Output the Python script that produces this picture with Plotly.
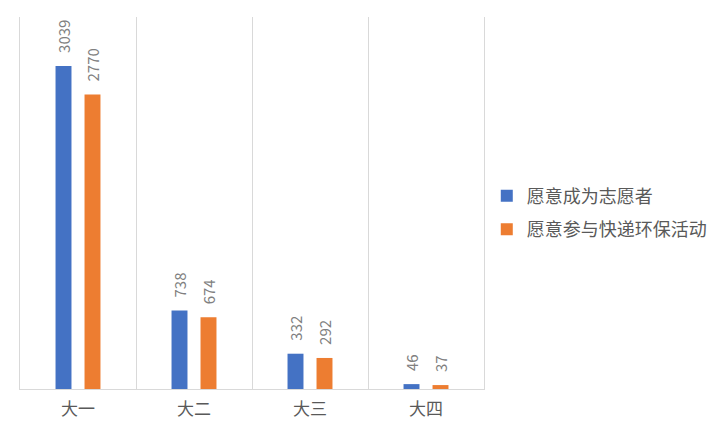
import plotly.graph_objects as go

categories = ["大一", "大二", "大三", "大四"]
volunteer = [3039, 738, 332, 46]
express_eco = [2770, 674, 292, 37]

FONT = "Noto Sans CJK SC"
LABEL_PAD = "\u00a0\u00a0\u00a0"

fig = go.Figure()
fig.add_trace(
    go.Bar(
        x=categories,
        y=volunteer,
        name="愿意成为志愿者",
        legendgroup="a",
        marker=dict(color="#4472C4"),
        text=[LABEL_PAD + str(v) for v in volunteer],
        textposition="outside",
        textangle=-90,
        constraintext="none",
        textfont=dict(color="#808080", size=15, family=FONT),
        cliponaxis=False,
    )
)
fig.add_trace(
    go.Bar(
        x=categories,
        y=express_eco,
        name="愿意参与快递环保活动",
        legendgroup="b",
        marker=dict(color="#ED7D31"),
        text=[LABEL_PAD + str(v) for v in express_eco],
        textposition="outside",
        textangle=-90,
        constraintext="none",
        textfont=dict(color="#808080", size=15, family=FONT),
        cliponaxis=False,
    )
)

# page body adds 8px, so margins are shifted by that
fig.update_layout(
    width=728,
    height=427,
    template="none",
    paper_bgcolor="white",
    plot_bgcolor="white",
    font=dict(family=FONT, color="#595959"),
    barmode="group",
    bargap=0.5,
    bargroupgap=0.45,
    margin=dict(l=12, r=252, t=9, b=46),
    showlegend=True,
    legend=dict(
        x=1.006,
        y=0.474,
        xanchor="left",
        yanchor="middle",
        font=dict(size=18, color="#595959", family=FONT),
        itemwidth=30,
        tracegroupgap=7,
    ),
)
fig.update_xaxes(
    tickson="boundaries",
    showgrid=True,
    gridcolor="#D9D9D9",
    gridwidth=1,
    showline=True,
    linecolor="#D9D9D9",
    ticks="",
    ticklabelstandoff=5,
    tickfont=dict(size=17, color="#595959"),
    zeroline=False,
)
fig.update_yaxes(
    range=[0, 3500],
    showgrid=False,
    showticklabels=False,
    zeroline=False,
    showline=True,
    mirror=True,
    linecolor="#D9D9D9",
)

fig.write_html("out.html")
